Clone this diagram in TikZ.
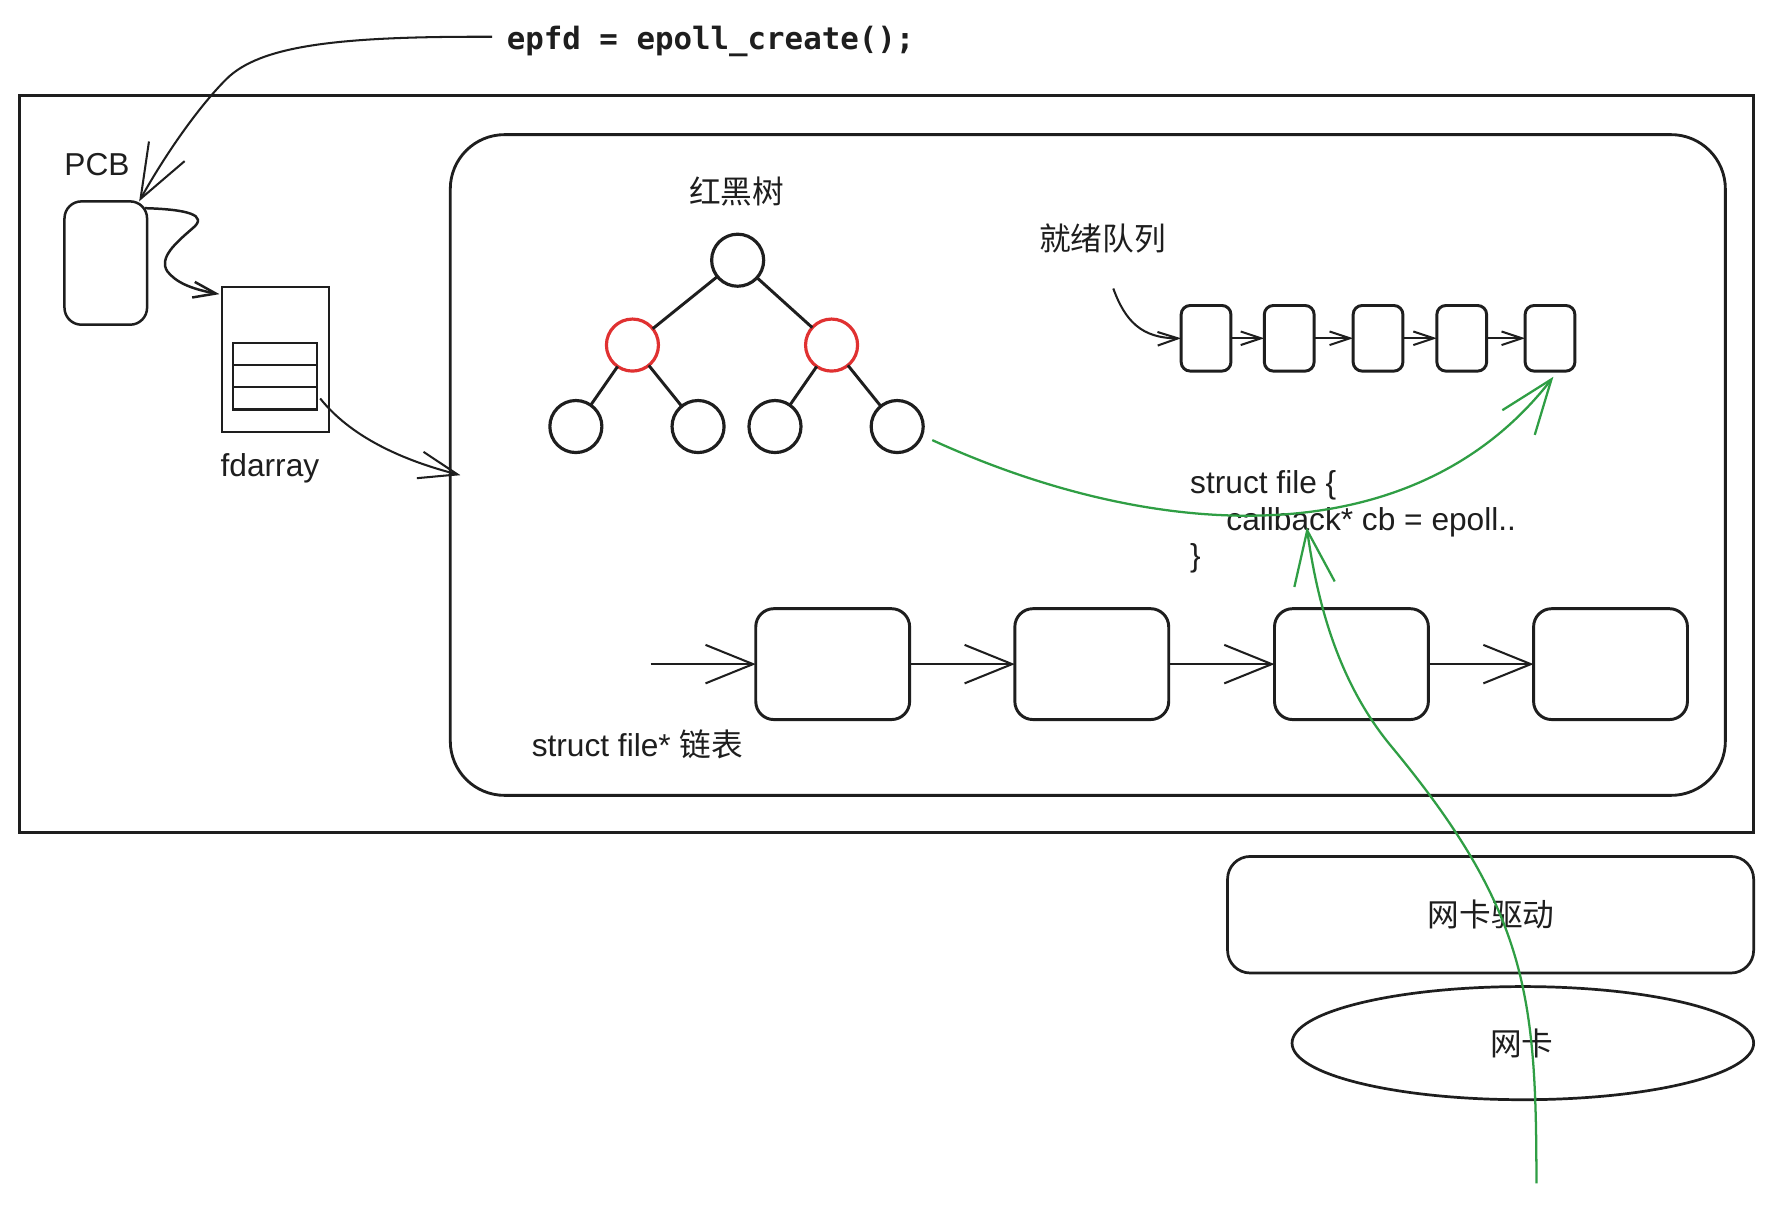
\documentclass[tikz,border=0pt]{standalone}
\usepackage{fontspec}
\setmainfont{Liberation Sans}
\newfontfamily\cjk{Noto Sans CJK SC}
\newfontfamily\codefont{DejaVu Sans Mono Bold}
\usetikzlibrary{arrows.meta,bending,shapes.geometric}
\definecolor{ink}{HTML}{1E1E1E}
\definecolor{rbred}{HTML}{E03131}
\definecolor{okgreen}{HTML}{2F9E44}
\begin{document}
\begin{tikzpicture}[x=0.5pt,y=-0.5pt,
  every node/.style={inner sep=0pt,outer sep=0pt,text=ink,font=\fontsize{14pt}{16.5pt}\selectfont},
  shapeline/.style={draw=ink,line width=1.1pt},
  frame/.style={shapeline,line width=1.3pt,rectangle,minimum width=766.5pt,minimum height=326pt},
  panel/.style={shapeline,line width=1.25pt,rectangle,rounded corners=24pt,minimum width=563.5pt,minimum height=292pt},
  pcbbox/.style={shapeline,rectangle,rounded corners=7.5pt,minimum width=36.5pt,minimum height=54.5pt},
  arraybox/.style={shapeline,line width=0.9pt,rectangle,minimum width=47.5pt,minimum height=64pt},
  slot/.style={shapeline,line width=1pt,rectangle,minimum width=37pt,minimum height=9.83pt},
  tnode/.style={circle,draw=ink,line width=1.4pt,minimum size=23pt},
  rnode/.style={tnode,draw=rbred},
  qbox/.style={shapeline,line width=1.3pt,rectangle,rounded corners=4pt,minimum width=22pt,minimum height=29pt},
  fbox/.style={shapeline,line width=1.3pt,rectangle,rounded corners=8pt,minimum width=68pt,minimum height=49pt},
  drvbox/.style={shapeline,line width=1.2pt,rectangle,rounded corners=10pt,minimum width=232.5pt,minimum height=51.5pt},
  nicshape/.style={shapeline,line width=1.2pt,ellipse,minimum width=204pt,minimum height=50pt},
  link/.style={draw=ink,line width=0.9pt},
  edge/.style={draw=ink,line width=1.3pt},
  glink/.style={draw=okgreen,line width=1pt},
  tipbig/.style={-{Straight Barb[length=21pt,width=17pt]}},
  tipepfd/.style={-{Straight Barb[length=24pt,width=18pt]}},
  tipsmall/.style={-{Straight Barb[length=10pt,width=7pt]}},
  tipfd/.style={-{Straight Barb[length=17pt,width=12pt]}},
  tipq/.style={-{Straight Barb[length=9pt,width=6pt]}},
  tipgreen/.style={-{Straight Barb[length=24pt,width=18pt]}}
]
\fill[white] (0,0) rectangle (1568,1065);
\useasboundingbox (0,0) rectangle (1568,1065);

% containers
\node[frame] (outer) at (783.5,410) {};
\node[panel] (panel) at (961.5,411) {};

% code text
\node[anchor=base west,font=\codefont\fontsize{13.6pt}{16pt}\selectfont] (epfd) at (448,43.5) {epfd = epoll\_create();};

% PCB and fdarray
\node[anchor=base west] (pcblabel) at (57,155.5) {PCB};
\node[pcbbox] (pcb) at (93.5,232.5) {};
\node[arraybox] (fd) at (243.5,318) {};
\node[slot] (row1) at (243,312.8) {};
\node[slot] (row2) at (243,332.5) {};
\node[slot] (row3) at (243,352.2) {};
\node[anchor=base west] (fdlabel) at (195,421) {fdarray};

% red-black tree
\node (rbtlabel) at (651,169) {\cjk 红黑树};
\node[tnode] (root) at (652,230) {};
\node[rnode] (lr) at (559,305) {};
\node[rnode] (rr) at (735,305) {};
\node[tnode] (l1) at (509,377) {};
\node[tnode] (l2) at (617,377) {};
\node[tnode] (l3) at (685,377) {};
\node[tnode] (l4) at (793,377) {};
\draw[edge] (root) -- (lr);
\draw[edge] (root) -- (rr);
\draw[edge] (lr) -- (l1);
\draw[edge] (lr) -- (l2);
\draw[edge] (rr) -- (l3);
\draw[edge] (rr) -- (l4);

% ready queue
\node (rqlabel) at (974.5,210.5) {\cjk 就绪队列};
\node[qbox] (q1) at (1066,299) {};
\node[qbox] (q2) at (1139.5,299) {};
\node[qbox] (q3) at (1218,299) {};
\node[qbox] (q4) at (1292,299) {};
\node[qbox] (q5) at (1370,299) {};
\coordinate (qin) at (984,255);
\draw[link,tipq] (qin) .. controls (995,285) and (1010,300) .. (q1.west);
\draw[link,tipq] (q1) -- (q2);
\draw[link,tipq] (q2) -- (q3);
\draw[link,tipq] (q3) -- (q4);
\draw[link,tipq] (q4) -- (q5);

% struct file text
\node[anchor=base west] (sf1) at (1052,436) {struct file \{};
\node[anchor=base west] (sfcb) at (1084,468.5) {callback* cb = epoll..};
\node[anchor=base west] (sf3) at (1052,501) {\}};

% struct file* list
\node[fbox] (f1) at (736,587) {};
\node[fbox] (f2) at (965,587) {};
\node[fbox] (f3) at (1194.5,587) {};
\node[fbox] (f4) at (1423.5,587) {};
\coordinate (fin) at (575,587);
\draw[link,tipbig] (fin) -- (f1.west);
\draw[link,tipbig] (f1) -- (f2);
\draw[link,tipbig] (f2) -- (f3);
\draw[link,tipbig] (f3) -- (f4);
\node[anchor=base west] (listlabel) at (470,669) {struct file* {\cjk 链表}};

% NIC driver and NIC
\node[drvbox] (drv) at (1317.5,808.5) {};
\node (drvlabel) at (1318,808) {\cjk 网卡驱动};
\node[nicshape] (nic) at (1346,922) {};
\node (niclabel) at (1345,922.5) {\cjk 网卡};

% black connectors
\draw[link,tipepfd] ([shift={(-13,-11)}]epfd.base west) .. controls (300,32) and (230,40) .. (200,70)
  .. controls (175,95) and (145,138) .. ([shift={(-7,0)}]pcb.north east);
\draw[link,line width=1.1pt,tipsmall] ([shift={(-2,6)}]pcb.north east) .. controls (165,185) and (185,190) .. (170,202)
  .. controls (155,215) and (140,228) .. (148,240) .. controls (156,250) and (170,256) .. ([shift={(-2,6)}]fd.north west);
\draw[link,tipfd] ([xshift=1.5pt]row3.east) .. controls (314,391) and (367,410) .. ([shift={(9,9)}]panel.west);

% green connectors
\draw[glink,tipgreen] ([shift={(31,12)}]l4.center) .. controls (1023,480) and (1252,493) .. ([shift={(3,5)}]q5.south);
\coordinate (gsrc) at (1358,1046);
\draw[glink,tipgreen] (gsrc) .. controls (1358,880) and (1350,805) .. (1230,660)
  .. controls (1180,600) and (1163,525) .. ([shift={(71,-2.5)}]sfcb.base west);
\end{tikzpicture}
\end{document}
